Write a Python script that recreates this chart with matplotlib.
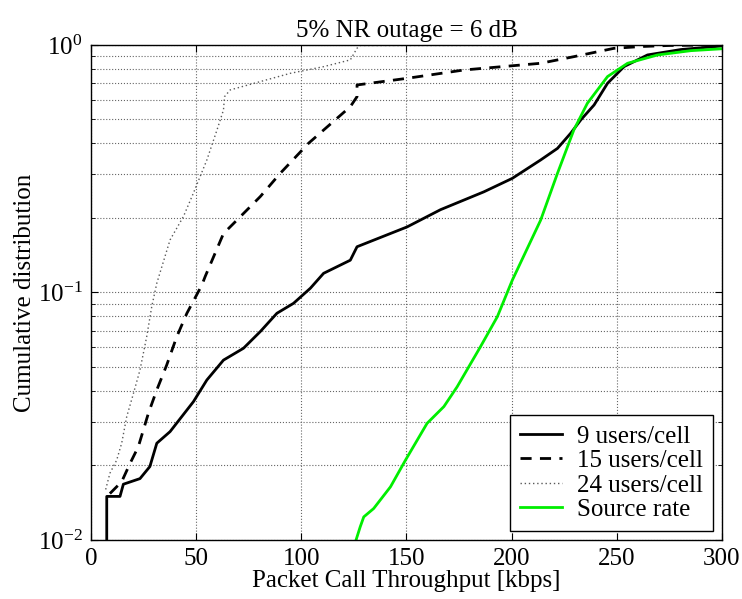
import numpy as np
import matplotlib
matplotlib.use('Agg')
import matplotlib.pyplot as plt
from matplotlib.ticker import LogLocator, NullFormatter, MultipleLocator

plt.rcParams['font.family'] = ['Liberation Serif', 'DejaVu Serif']
plt.rcParams['mathtext.fontset'] = 'stix'
plt.rcParams['font.size'] = 18

# 9 users/cell (solid black)
users9_x = [7.5, 7.5, 13.8, 15.4, 23.3, 28, 31.3, 37.6, 48.7, 55.1, 63, 72.5, 80.5, 88.4, 96.3,
            104.3, 110.6, 123.3, 126.5, 150.3, 166.2, 186.8, 200.3, 213.8, 221.8, 228.1, 232.9,
            239.2, 245.6, 253.5, 264.6, 280.5, 300]
users9_y = [0.0098, 0.0150, 0.0150, 0.0168, 0.0177, 0.0198, 0.0246, 0.0274, 0.0362, 0.0443, 0.0533,
            0.0595, 0.0695, 0.0824, 0.0904, 0.104, 0.1195, 0.135, 0.153, 0.184, 0.216, 0.255,
            0.289, 0.343, 0.382, 0.44, 0.498, 0.572, 0.70, 0.818, 0.911, 0.958, 0.99]

# 15 users/cell (dashed black)
users15_x = [9, 14.6, 18.6, 22.5, 24.9, 27.3, 31.3, 36, 40.8, 45.6, 52.7, 54.3, 63, 67.8, 80.5,
             90, 103.5, 110.6, 123.3, 126.5, 126.5, 150.3, 177.3, 213.8, 229.7, 248.7, 261.4,
             275, 300]
users15_y = [0.0154, 0.0172, 0.0204, 0.0238, 0.0278, 0.0325, 0.0404, 0.0509, 0.0663, 0.0824, 0.107,
             0.116, 0.173, 0.19, 0.244, 0.303, 0.401, 0.453, 0.563, 0.618, 0.689, 0.733, 0.792,
             0.843, 0.897, 0.969, 0.985, 0.995, 1.0]

# 24 users/cell (dotted)
users24_x = [7, 9, 12.2, 14.6, 17, 20.2, 23.3, 26.5, 28.9, 31.3, 37.6, 44, 48.7, 55.1, 59.9, 63,
             63.5, 66.2, 80.5, 94.8, 110.6, 123.3, 126.5, 128, 300]
users24_y = [0.016, 0.0186, 0.021, 0.0246, 0.0315, 0.0391, 0.0486, 0.0663, 0.0877, 0.109, 0.163,
             0.203, 0.252, 0.343, 0.453, 0.546, 0.618, 0.658, 0.711, 0.768, 0.817, 0.87, 0.97,
             0.995, 0.997]

# Source rate (green)
source_x = [125.7, 128, 129.7, 134.4, 142.4, 149.5, 159.8, 167.8, 174.1, 185.2, 193.2, 200.3,
            213.8, 221.8, 229.6, 236, 245.6, 255.1, 269.4, 285.2, 300]
source_y = [0.0098, 0.0113, 0.0124, 0.0134, 0.0164, 0.021, 0.0296, 0.0346, 0.0416, 0.0604, 0.0798,
            0.112, 0.196, 0.303, 0.454, 0.581, 0.745, 0.843, 0.911, 0.948, 0.965]

fig = plt.figure(figsize=(7.42, 5.99), dpi=100)
ax = fig.add_axes([0.1226, 0.0985, 0.8504, 0.8265])

ax.plot(users9_x, users9_y, color='k', lw=2, label='9 users/cell')
ax.plot(users15_x, users15_y, color='k', lw=2, linestyle=(0, (4, 3)), label='15 users/cell')
ax.plot(users24_x, users24_y, color='0.35', lw=1, linestyle=(0, (1, 2)), label='24 users/cell')
ax.plot(source_x, source_y, color='#00ee00', lw=2, label='Source rate')

ax.set_yscale('log')
ax.set_xlim(0, 300)
ax.set_ylim(0.01, 1)
ax.xaxis.set_major_locator(MultipleLocator(50))
ax.yaxis.set_major_locator(LogLocator(base=10))
ax.yaxis.set_minor_locator(LogLocator(base=10, subs=np.arange(2, 10)))
ax.yaxis.set_minor_formatter(NullFormatter())

ax.grid(True, which='major', axis='both', color='0.4', linestyle=':', lw=0.8)
ax.grid(True, which='minor', axis='y', color='0.4', linestyle=':', lw=0.8)

ax.tick_params(which='both', direction='in', top=True, right=True, labelsize=18, pad=6)
ax.tick_params(which='major', length=5)
ax.tick_params(which='minor', length=3)
for s in ax.spines.values():
    s.set_linewidth(1.0)

ax.set_xlabel('Packet Call Throughput [kbps]', fontsize=18, labelpad=0)
ax.set_ylabel('Cumulative distribution', fontsize=18, labelpad=1)
ax.set_title('5% NR outage = 6 dB', fontsize=18, pad=6)

leg = ax.legend(loc='lower right', fontsize=18, frameon=True, fancybox=False,
                edgecolor='k', framealpha=1, labelspacing=0.08, handlelength=1.7,
                handletextpad=0.6, borderpad=0.4, borderaxespad=0.35)
leg.get_frame().set_linewidth(1.0)

fig.savefig('out.png', dpi=100)
